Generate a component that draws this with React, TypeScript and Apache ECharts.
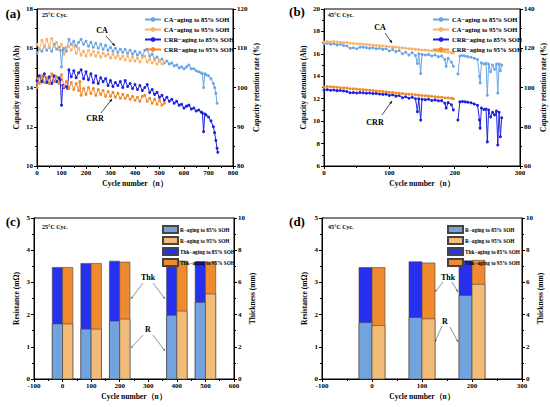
import React, { useEffect, useRef } from 'react';
import * as echarts from 'echarts';

const SERIF = '"Liberation Serif", "Times New Roman", serif';

// ---------- Panel (a): 25°C cycling ----------
// CA (Ah, left axis)
const aCA85: [number, number][] = [
  [0,15.75],[10,15.95],[20,15.85],[30,16.1],[40,15.9],[50,16.05],[60,15.85],[70,16.2],[80,15.95],[90,16.05],[95,15.9],[100,15.05],
  [105,15.9],[110,16.0],[120,15.85],[130,16.45],[140,16.2],[150,16.35],[160,16.1],[170,16.3],[180,16.45],[190,16.2],[200,16.35],
  [210,16.1],[220,16.3],[230,16.05],[240,16.25],[250,16.0],[260,16.2],[270,15.95],[280,16.15],[290,15.9],[300,16.05],[310,15.85],
  [320,16.0],[330,15.8],[340,15.95],[350,15.8],[360,15.95],[370,15.75],[380,15.9],[390,15.7],[400,15.85],[410,15.65],[420,15.8],
  [430,15.6],[440,15.9],[450,15.95],[460,15.6],[470,15.7],[480,15.45],[490,15.55],[500,15.35],[510,15.45],[520,15.25],[530,15.35],
  [540,15.2],[550,15.25],[560,15.1],[570,15.15],[580,15.0],[590,15.05],[600,14.95],[610,15.05],[620,15.15],[630,14.95],[640,14.95],
  [650,14.85],[660,14.8],[670,14.75],[675,14.7],[680,14.0],[685,14.7],[690,14.65],[700,14.6],[710,14.45],[720,14.2],[725,14.0],
  [730,13.7],[735,13.2]
];
const aCA95: [number, number][] = [
  [0,16.2],[10,15.95],[20,16.4],[30,16.1],[40,16.45],[50,16.05],[60,16.5],[70,16.1],[80,16.3],[90,15.95],[100,16.2],[110,15.7],
  [120,16.05],[130,16.1],[140,15.9],[150,16.15],[160,15.75],[170,16.0],[180,15.65],[190,15.85],[200,15.6],[210,15.9],[220,15.65],
  [230,15.85],[240,15.6],[250,15.8],[260,15.55],[270,15.75],[280,15.6],[290,15.7],[300,15.5],[310,15.7],[320,15.5],[330,15.65],
  [340,15.45],[350,15.6],[360,15.4],[370,15.6],[380,15.35],[390,15.55],[400,15.35],[410,15.5],[420,15.3],[430,15.55],[440,15.6],
  [450,15.3],[460,15.45],[470,15.25],[480,15.4],[490,15.2],[500,15.35],[510,15.2],[520,15.3]
];
// CRR (%, right axis)
const aCRR85: [number, number][] = [
  [0,101.75],[10,103],[20,101.5],[30,103.5],[40,101.25],[50,102.75],[60,101],[70,103],[80,101.5],[90,102.5],[95,102],[100,95.5],
  [105,100.5],[110,100],[120,100.25],[125,99.75],[130,104.5],[140,102.75],[150,104.25],[160,102.5],[170,103.75],[180,104.5],
  [190,102.25],[200,104],[210,102],[220,103.5],[230,101.25],[240,103],[250,101],[260,102.5],[270,101.5],[280,102.25],[290,100.5],
  [300,101.75],[310,100.25],[320,101.25],[330,100.5],[340,101.5],[350,100],[360,101.75],[370,100.25],[380,101],[390,99.75],
  [400,100.75],[410,99.5],[420,100.5],[430,99.25],[440,100],[450,100.75],[460,98.75],[470,99.5],[480,98.25],[490,98.75],[500,97.5],
  [510,98],[520,96.75],[530,97.5],[540,96.5],[550,97],[560,96],[570,96.5],[580,95.5],[590,95.75],[600,94.75],[610,95.25],[620,95.5],
  [630,94.5],[640,94.75],[650,94],[660,94.25],[670,93.75],[675,93.5],[680,88.75],[685,93.25],[690,93],[700,92.5],[710,91.5],
  [720,90],[725,88.5],[730,86.5],[735,84.5],[738,83.5]
];
const aCRR95: [number, number][] = [
  [0,100],[5,102.25],[10,101],[20,103],[30,101.25],[40,102.5],[50,101],[60,103.5],[70,101.5],[80,102.75],[90,101],[100,103.25],
  [110,100.25],[120,101.5],[130,99.75],[140,101.25],[150,99.5],[160,101],[170,99.25],[175,101.5],[180,98],[190,99.75],[200,98.25],
  [210,100],[220,98.5],[230,99.75],[240,98],[250,99.5],[260,98.25],[270,99.25],[280,97.75],[290,99],[300,97.75],[310,98.75],
  [320,97.5],[330,98.5],[340,97.25],[350,98.25],[360,97.25],[370,98],[380,97],[390,97.75],[400,96.75],[410,97.5],[420,96.5],
  [430,97.75],[440,98],[450,96.5],[460,97.25],[470,96],[480,97],[490,95.75],[500,96.75],[510,95.5],[520,96]
];

// ---------- Panel (b): 45°C cycling ----------
const bCA85: [number, number | null][] = [
  [0,16.9],[5,16.95],[10,16.85],[15,16.9],[20,16.8],[25,16.85],[30,16.75],[35,16.7],[40,16.5],[45,16.55],[50,16.45],[55,16.6],
  [60,16.6],[65,16.55],[70,16.5],[75,16.55],[80,16.45],[85,16.5],[90,16.4],[95,16.45],[100,16.25],[105,16.4],[110,16.2],[115,16.3],
  [120,16.0],[125,16.15],[130,15.9],[135,16.1],[140,15.85],[143,15.15],[145,16.0],[148,14.25],[150,15.95],[155,15.9],[160,15.95],
  [165,15.8],[170,15.9],[175,15.75],[180,15.8],[185,15.5],[187,14.9],[190,15.6],[195,15.25],[198,14.9],[202,null],[205,14.2],
  [208,15.8],[212,15.85],[216,15.8],[220,15.75],[225,15.7],[230,15.6],[235,15.5],[238,14.0],[239,13.4],[241,15.2],[245,15.1],
  [248,15.15],[250,12.3],[252,15.1],[255,14.4],[258,15.0],[261,14.6],[264,15.1],[266,12.5],[268,15.1],[270,14.5],[272,15.0]
];
const bCA95: [number, number][] = [
  [0,17.05],[5,17.1],[10,17.08],[15,17.1],[20,17.05],[25,17.02],[30,17.0],[35,17.01],[40,16.95],[45,16.93],[50,16.9],[55,16.89],
  [60,16.86],[65,16.84],[70,16.8],[75,16.79],[80,16.75],[85,16.73],[90,16.7],[95,16.68],[100,16.64],[105,16.62],[110,16.58],
  [115,16.57],[120,16.52],[125,16.5],[130,16.46],[135,16.45],[140,16.4],[145,16.38],[150,16.35],[155,16.34],[160,16.3],[165,16.28],
  [170,16.25],[175,16.24],[180,16.2],[185,16.18],[190,16.15],[195,16.12],[198,16.08]
];
const bCRR85: [number, number | null][] = [
  [0,98.7],[5,98.9],[10,98.6],[15,98.7],[20,98.4],[25,98.5],[30,98.2],[35,98.0],[40,97.3],[45,97.4],[50,97.2],[55,97.4],[60,97.3],
  [65,97.1],[70,97.2],[75,96.9],[80,97.0],[85,96.7],[90,96.5],[95,96.6],[100,95.9],[105,96.3],[110,95.6],[115,95.9],[120,94.8],
  [125,95.3],[130,94.5],[135,95.0],[140,94.3],[143,87.7],[145,94.2],[148,83.4],[150,94.0],[155,93.8],[160,94.0],[165,93.4],
  [170,93.7],[175,93.2],[180,93.3],[185,92.0],[187,89.5],[190,92.3],[195,91.2],[198,88.6],[202,null],[205,83.4],[208,92.7],
  [212,92.9],[216,92.7],[220,92.5],[225,92.2],[230,91.6],[235,90.9],[238,83.5],[239,79.3],[241,89.5],[245,88.8],[248,89.0],
  [250,72.3],[252,88.5],[255,85.0],[258,87.4],[261,86.0],[264,88.0],[266,70.7],[268,87.4],[270,74.9],[272,84.6]
];
const bCRR95: [number, number][] = [
  [0,100.2],[5,100.5],[10,100.4],[15,100.3],[20,100.1],[25,99.9],[30,99.8],[35,99.7],[40,99.4],[45,99.3],[50,99.2],[55,99.0],
  [60,98.9],[65,98.7],[70,98.6],[75,98.4],[80,98.2],[85,98.1],[90,97.9],[95,97.8],[100,97.5],[105,97.4],[110,97.2],[115,97.1],
  [120,96.9],[125,96.7],[130,96.6],[135,96.4],[140,96.3],[145,96.1],[150,95.9],[155,95.8],[160,95.6],[165,95.5],[170,95.3],
  [175,95.1],[180,95.0],[185,94.8],[190,94.7],[195,94.5],[198,94.3]
];

// ---------- Panel (c): 25°C resistance / thickness ----------
const cCycles = [0, 100, 200, 400, 500];
const cR85 = [1.71, 1.55, 1.80, 1.98, 2.38];
const cR95 = [1.71, 1.55, 1.86, 2.11, 2.64];
const cThk85 = [6.93, 7.18, 7.32, 7.39, 7.30];
const cThk95 = [6.93, 7.18, 7.26, 7.33, 7.27];

// ---------- Panel (d): 45°C resistance / thickness ----------
const dCycles = [0, 100, 200];
const dR85 = [1.75, 1.91, 2.59];
const dR95 = [1.66, 1.87, 2.94];
const dThk85 = [6.92, 7.28, 7.34];
const dThk95 = [6.92, 7.21, 7.37];

const LINE_NAMES = ['CA−aging to 85% SOH', 'CA−aging to 95% SOH', 'CRR−aging to 85% SOH', 'CRR−aging to 95% SOH'];
const BAR_NAMES = ['R−aging to 85% SOH', 'R−aging to 95% SOH', 'Thk−aging to 85% SOH', 'Thk−aging to 95% SOH'];

const C_CA85 = '#6aa6e6';
const C_CA95 = '#f6b46a';
const C_CRR85 = '#1c22e0';
const C_CRR95 = '#f08a2a';
const C_R85 = '#72a3dd';
const C_R95 = '#f2bb78';
const C_T85 = '#2630ee';
const C_T95 = '#ef8a2e';

const pairs = (xs: number[], ys: number[]) => xs.map((x, i) => [x, ys[i]]);

function arrow(x1: number, y1: number, x2: number, y2: number, color: string, head = 3.2): any[] {
  const a = Math.atan2(y2 - y1, x2 - x1);
  const p1 = [x2 - head * Math.cos(a - 0.4), y2 - head * Math.sin(a - 0.4)];
  const p2 = [x2 - head * Math.cos(a + 0.4), y2 - head * Math.sin(a + 0.4)];
  return [
    { type: 'line', silent: true, shape: { x1, y1, x2, y2 }, style: { stroke: color, lineWidth: 0.7 } },
    { type: 'polygon', silent: true, shape: { points: [[x2, y2], p1, p2] }, style: { fill: color } },
  ];
}

function label(text: string, x: number, y: number, size: number, align = 'center'): any {
  return {
    type: 'text', silent: true, x, y,
    style: {
      text, fill: '#000', font: `bold ${size}px ${SERIF}`,
      align, verticalAlign: 'middle', textAlign: align, textVerticalAlign: 'middle',
    },
  };
}

const axisFont = { color: '#000', fontFamily: SERIF, fontWeight: 'bold' as const, fontSize: 7 };
const nameFont = { color: '#000', fontFamily: SERIF, fontWeight: 'bold' as const, fontSize: 7.5 };

function xAxis(grid: number, min: number, max: number, interval: number): any {
  return {
    type: 'value', gridIndex: grid, min, max, interval,
    name: 'Cycle number（n）', nameLocation: 'middle', nameGap: 13, nameTextStyle: nameFont,
    axisLine: { show: true, onZero: false, lineStyle: { color: '#000', width: 1 } },
    axisTick: { show: true, length: 3, lineStyle: { color: '#000' } },
    minorTick: { show: true, splitNumber: 2, length: 2, lineStyle: { color: '#000' } },
    splitLine: { show: false },
    axisLabel: { ...axisFont, margin: 3 },
  };
}

function yAxis(grid: number, pos: 'left' | 'right', min: number, max: number, interval: number, name: string, gap: number): any {
  return {
    type: 'value', gridIndex: grid, position: pos, min, max, interval,
    name, nameLocation: 'middle', nameGap: gap, nameTextStyle: nameFont,
    axisLine: { show: true, onZero: false, lineStyle: { color: '#000', width: 1 } },
    axisTick: { show: true, length: 3, lineStyle: { color: '#000' } },
    minorTick: { show: true, splitNumber: 2, length: 2, lineStyle: { color: '#000' } },
    splitLine: { show: false },
    axisLabel: { ...axisFont, margin: 4 },
  };
}

function lineSeries(name: string, xi: number, yi: number, data: any[], color: string): any {
  return {
    name, type: 'line', xAxisIndex: xi, yAxisIndex: yi, data, color,
    symbol: 'circle', symbolSize: 3, showSymbol: true,
    lineStyle: { width: 1, color }, itemStyle: { color },
    connectNulls: false,
  };
}

function barSeries(name: string, xi: number, yi: number, data: any[], color: string, side: number, width: number, z: number): any {
  return {
    name, type: 'custom', coordinateSystem: 'cartesian2d', xAxisIndex: xi, yAxisIndex: yi, z,
    itemStyle: { color, borderColor: '#444', borderWidth: 0.6 },
    encode: { x: 0, y: 1 },
    data,
    renderItem: (params: any, api: any) => {
      const x = api.value(0);
      const v = api.value(1);
      const xl = side < 0 ? x - width : x;
      const p0 = api.coord([xl, 0]);
      const p1 = api.coord([xl + width, v]);
      return {
        type: 'rect',
        shape: { x: p0[0], y: p1[1], width: p1[0] - p0[0], height: p0[1] - p1[1] },
        style: api.style(),
      };
    },
  };
}

function lineLegend(left: number): any {
  return {
    left, top: 11, orient: 'vertical', itemWidth: 16, itemHeight: 6, itemGap: 3,
    selectedMode: false, data: LINE_NAMES,
    textStyle: { color: '#000', fontFamily: SERIF, fontWeight: 'bold', fontSize: 6.5, padding: [0, 0, 0, -2] },
  };
}

function barLegend(left: number): any {
  return {
    left, top: 220, orient: 'vertical', itemWidth: 15, itemHeight: 7, itemGap: 2,
    selectedMode: false, data: BAR_NAMES.map((n) => ({ name: n, icon: 'rect' })),
    textStyle: { color: '#000', fontFamily: SERIF, fontWeight: 'bold', fontSize: 5.3, padding: [0, 0, 0, -3] },
  };
}

export default function App() {
  const ref = useRef<HTMLDivElement>(null);
  useEffect(() => {
    if (!ref.current) return;
    const chart = echarts.init(ref.current, undefined, { renderer: 'svg' });
    const grids = [
      { left: 37, top: 9, width: 196, height: 157 },
      { left: 324, top: 9, width: 196, height: 157 },
      { left: 34, top: 218, width: 200, height: 161 },
      { left: 322, top: 218, width: 200, height: 161 },
    ].map((g) => ({ ...g, show: true, borderColor: '#000', borderWidth: 1, backgroundColor: 'transparent', containLabel: false }));

    const graphicEls: any[] = [
      label('(a)', 13, 13, 13),
      label('(b)', 297, 11, 13),
      label('(c)', 13, 221, 13),
      label('(d)', 297, 221, 13),
      label('25°C Cyc.', 42, 15, 6, 'left'),
      label('45°C Cyc.', 328, 15, 6, 'left'),
      label('25°C Cyc.', 42, 227, 6, 'left'),
      label('45°C Cyc.', 328, 227, 6, 'left'),
      // (a) annotations
      label('CA', 102, 30, 8),
      ...arrow(106, 36, 115, 46, '#000'),
      label('CRR', 95, 118, 8),
      ...arrow(101, 113, 112, 99, '#000'),
      // (b) annotations
      label('CA', 380, 27, 8),
      ...arrow(385, 33, 392, 43, '#000'),
      label('CRR', 375, 122, 8),
      ...arrow(382, 115, 392, 101, '#000'),
      // (c) annotations
      label('Thk', 148, 277, 8),
      ...arrow(143, 283, 131, 299, '#666', 2.5),
      ...arrow(153, 283, 165, 299, '#666', 2.5),
      label('R', 148, 329, 8),
      ...arrow(143, 335, 131, 348, '#666', 2.5),
      ...arrow(153, 335, 165, 351, '#666', 2.5),
      // (d) annotations
      label('Thk', 448, 277, 8),
      ...arrow(443, 282, 435, 292, '#666', 2.5),
      ...arrow(452, 282, 458, 292, '#666', 2.5),
      label('R', 445, 321, 8),
      ...arrow(442, 326, 435, 342, '#666', 2.5),
      ...arrow(450, 327, 458, 342, '#666', 2.5),
    ];

    const option: any = {
      animation: false,
      backgroundColor: '#fff',
      grid: grids,
      xAxis: [xAxis(0, 0, 800, 100), xAxis(1, 0, 300, 100), xAxis(2, -100, 600, 100), xAxis(3, -100, 300, 100)],
      yAxis: [
        yAxis(0, 'left', 10, 18, 2, 'Capacity attenuation (Ah)', 17),
        yAxis(0, 'right', 80, 120, 10, 'Capacity retention rate (%)', 19),
        yAxis(1, 'left', 6, 20, 2, 'Capacity attenuation (Ah)', 17),
        yAxis(1, 'right', 60, 140, 20, 'Capacity retention rate (%)', 19),
        yAxis(2, 'left', 0, 5, 1, 'Resistance (mΩ)', 14),
        yAxis(2, 'right', 0, 10, 2, 'Thickness (mm)', 14),
        yAxis(3, 'left', 0, 5, 1, 'Resistance (mΩ)', 14),
        yAxis(3, 'right', 0, 10, 2, 'Thickness (mm)', 14),
      ],
      legend: [lineLegend(139), lineLegend(427), barLegend(157), barLegend(442)],
      series: [
        lineSeries(LINE_NAMES[0], 0, 0, aCA85, C_CA85),
        lineSeries(LINE_NAMES[1], 0, 0, aCA95, C_CA95),
        lineSeries(LINE_NAMES[2], 0, 1, aCRR85, C_CRR85),
        lineSeries(LINE_NAMES[3], 0, 1, aCRR95, C_CRR95),
        lineSeries(LINE_NAMES[0], 1, 2, bCA85, C_CA85),
        lineSeries(LINE_NAMES[1], 1, 2, bCA95, C_CA95),
        lineSeries(LINE_NAMES[2], 1, 3, bCRR85, C_CRR85),
        lineSeries(LINE_NAMES[3], 1, 3, bCRR95, C_CRR95),
        barSeries(BAR_NAMES[2], 2, 5, pairs(cCycles, cThk85), C_T85, -1, 36, 2),
        barSeries(BAR_NAMES[3], 2, 5, pairs(cCycles, cThk95), C_T95, 1, 36, 2),
        barSeries(BAR_NAMES[0], 2, 4, pairs(cCycles, cR85), C_R85, -1, 36, 3),
        barSeries(BAR_NAMES[1], 2, 4, pairs(cCycles, cR95), C_R95, 1, 36, 3),
        barSeries(BAR_NAMES[2], 3, 7, pairs(dCycles, dThk85), C_T85, -1, 26, 2),
        barSeries(BAR_NAMES[3], 3, 7, pairs(dCycles, dThk95), C_T95, 1, 26, 2),
        barSeries(BAR_NAMES[0], 3, 6, pairs(dCycles, dR85), C_R85, -1, 26, 3),
        barSeries(BAR_NAMES[1], 3, 6, pairs(dCycles, dR95), C_R95, 1, 26, 3),
      ],
      graphic: { elements: graphicEls },
    };
    chart.setOption(option);
    return () => chart.dispose();
  }, []);
  return <div ref={ref} style={{ position: 'absolute', left: 0, top: 0, width: 550, height: 407, background: '#fff' }} />;
}
